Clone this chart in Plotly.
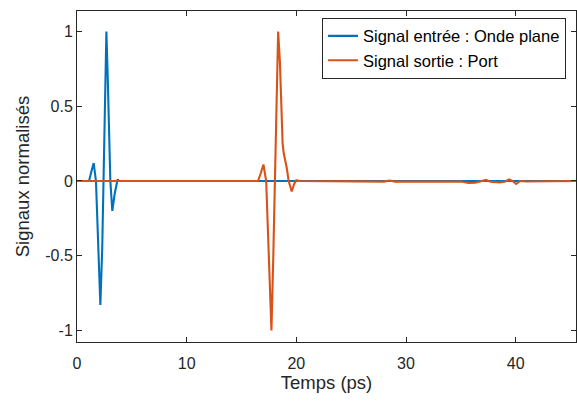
import plotly.graph_objects as go

# Input signal (plane wave) — time in ps, normalised amplitude
t_in = [0, 1.1, 1.3, 1.52, 1.73, 1.95, 2.13, 2.3, 2.43, 2.55, 2.68, 2.8, 3.04, 3.22, 3.45, 3.7, 3.85, 45.5]
v_in = [0, 0, 0.06, 0.12, 0.0, -0.55, -0.83, -0.45, 0.0, 0.6, 1.0, 0.7, 0.0, -0.2, -0.08, 0.01, 0, 0]

# Output signal (port)
t_out = [0, 16.5, 16.75, 17.0, 17.25, 17.5, 17.73, 17.9, 18.03, 18.2, 18.34, 18.5, 18.62, 18.75,
         18.85, 19.0, 19.12, 19.3, 19.58, 19.8, 20.0, 20.3, 28.0, 28.5, 29.0, 35.0, 35.7, 36.3,
         37.0, 37.3, 37.7, 38.5, 39.0, 39.4, 39.7, 40.05, 40.4, 41.0, 45.5]
v_out = [0, 0, 0.05, 0.11, 0.0, -0.6, -1.0, -0.5, 0.0, 0.65, 1.0, 0.8, 0.5, 0.25,
         0.185, 0.14, 0.09, 0.0, -0.07, -0.02, 0.005, 0, -0.004, 0.003, -0.004, -0.004, -0.013, -0.012,
         0.0, 0.007, -0.005, -0.01, -0.005, 0.01, 0.0, -0.02, 0.0, -0.003, 0]

name_in = "Signal entrée : Onde plane"
name_out = "Signal sortie : Port"

x_ticks = [0, 10, 20, 30, 40]
y_ticks = [-1, -0.5, 0, 0.5, 1]
y_tick_text = ["-1", "-0.5", "0", "0.5", "1"]

FONT = "Liberation Sans, Arial, sans-serif"
AX = "#262626"

fig = go.Figure()
fig.add_trace(go.Scatter(x=t_in, y=v_in, mode="lines", name=name_in,
                         line=dict(color="#0072BD", width=2.1)))
fig.add_trace(go.Scatter(x=t_out, y=v_out, mode="lines", name=name_out,
                         line=dict(color="#D95319", width=2.1)))

axis_common = dict(showgrid=False, zeroline=False, showline=True, linecolor=AX, linewidth=1,
                   mirror="allticks", ticks="inside", ticklen=5, tickcolor=AX,
                   tickfont=dict(family=FONT, size=16, color=AX))

fig.update_layout(
    width=577, height=403,
    margin=dict(l=77, r=1, t=11, b=61),
    paper_bgcolor="white", plot_bgcolor="white",
    font=dict(family=FONT, color=AX),
    xaxis=dict(range=[0, 45.5], tickvals=x_ticks, ticklabelstandoff=7,
               title=dict(text="Temps (ps)", font=dict(family=FONT, size=18.5, color=AX), standoff=2),
               **axis_common),
    yaxis=dict(range=[-1.077, 1.137], tickvals=y_ticks, ticktext=y_tick_text,
               title=dict(text="Signaux normalisés", font=dict(family=FONT, size=18.5, color=AX), standoff=10),
               **axis_common),
    legend=dict(x=0.98, y=0.98, xanchor="right", yanchor="top",
                bgcolor="white", bordercolor=AX, borderwidth=1,
                font=dict(family=FONT, size=16.5, color="black"),
                itemwidth=30, tracegroupgap=0),
    showlegend=True,
)

fig.write_html("out.html", config={"displayModeBar": False},
               post_script="document.body.style.margin='0';document.body.style.overflow='hidden';")
